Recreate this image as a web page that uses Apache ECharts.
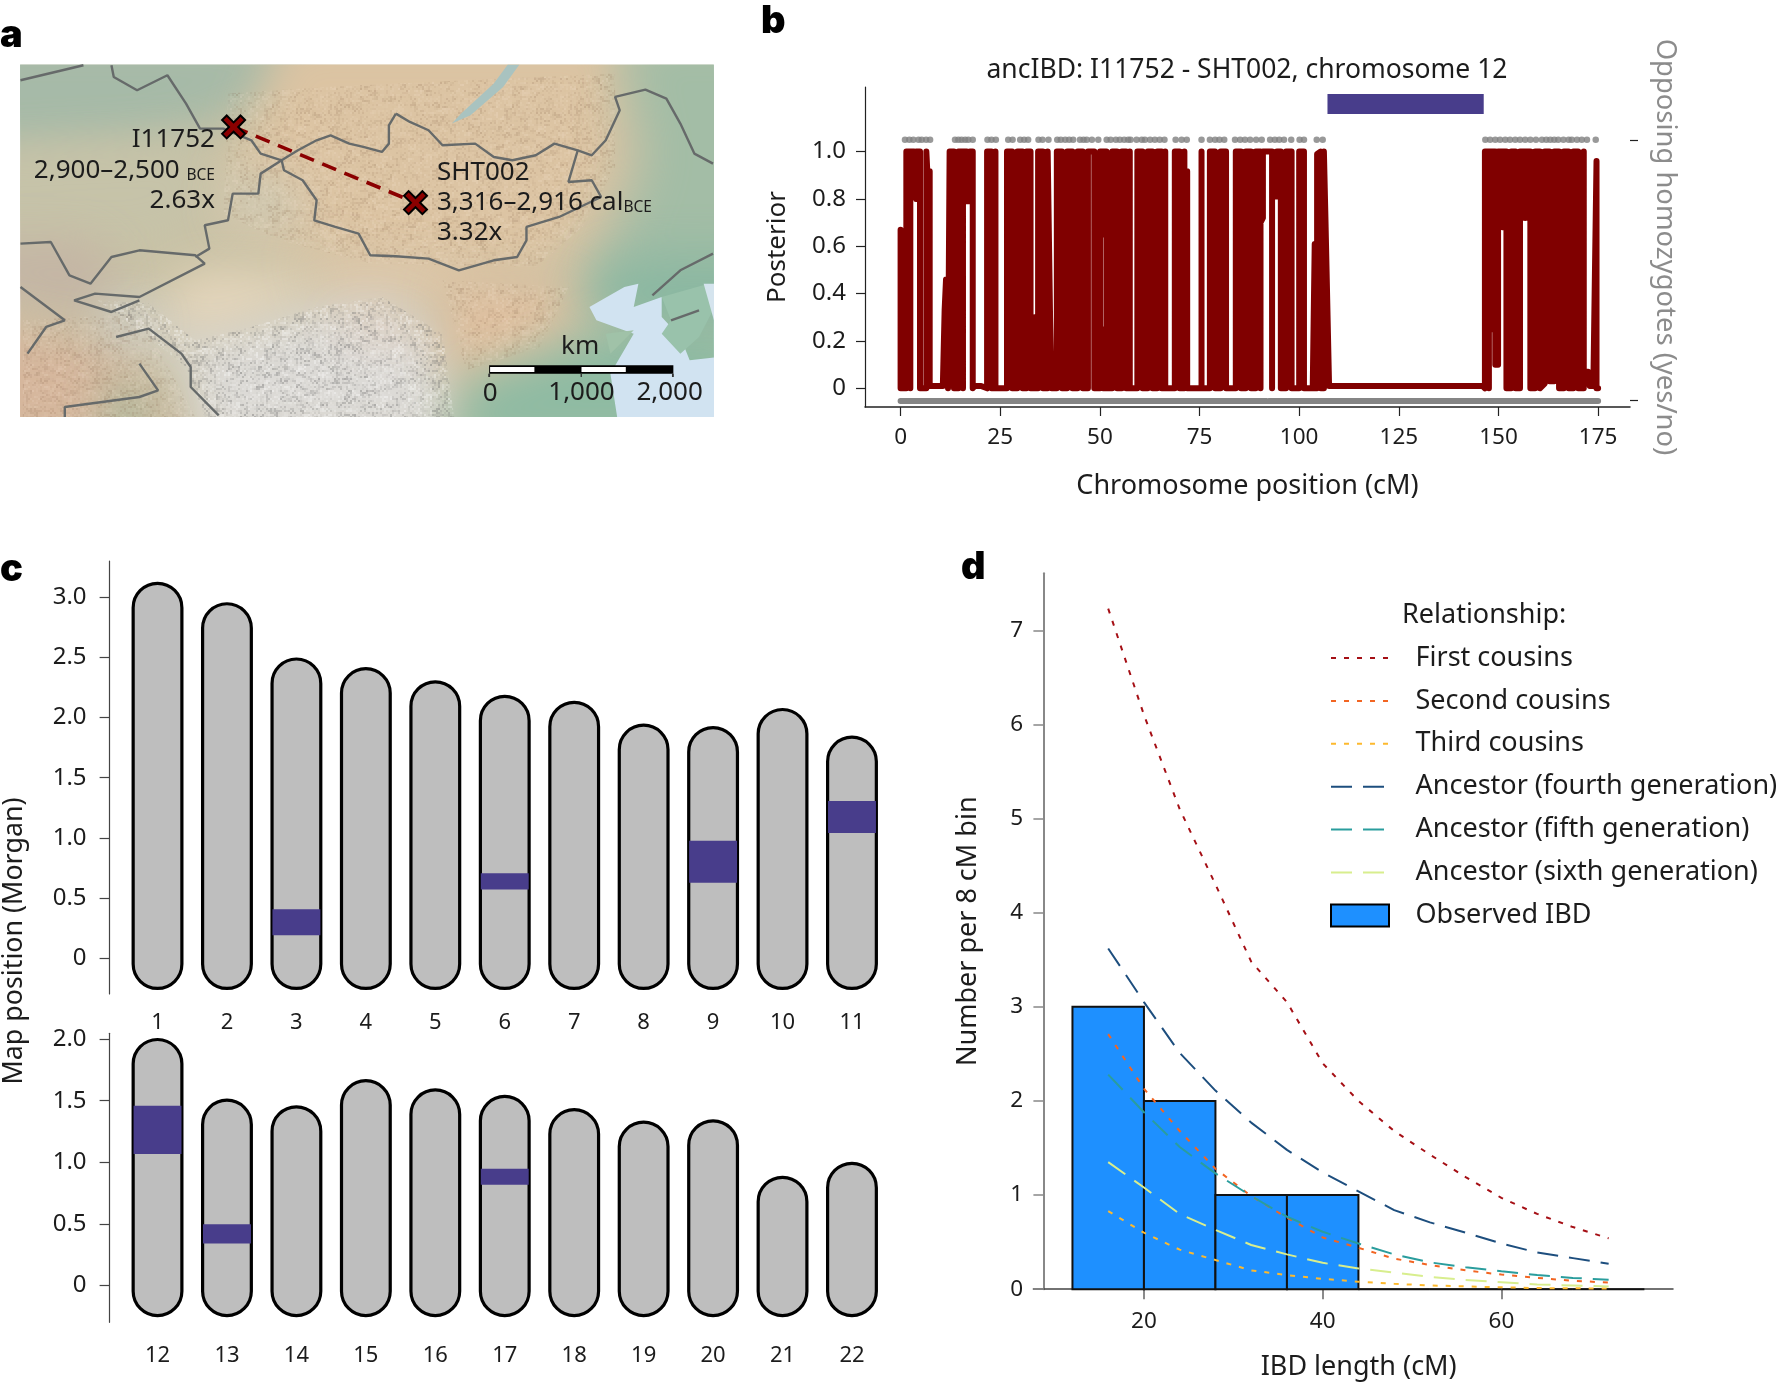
<!DOCTYPE html>
<html><head><meta charset="utf-8">
<style>html,body{margin:0;padding:0;background:#fff}#c{width:1777px;height:1382px}</style>
<script src="https://cdn.jsdelivr.net/npm/echarts@6/dist/echarts.min.js"></script>
</head><body><div id="c"></div>
<script>
var FONT='"Noto Sans"';
/* ---------- panel a (map units = arbitrary map-sheet units) ---------- */
var terrainShapes=[
 ['#a6baa8',[[-100,100],[620,100],[640,300],[520,330],[420,390],[300,430],[-100,470]]],
 ['#c6c3a9',[[-100,450],[420,420],[480,560],[430,680],[300,740],[-100,720]]],
 ['#dcc4a3',[[610,100],[1330,100],[1320,330],[1330,500],[1260,700],[1150,830],[800,800],[600,720],[480,660],[520,420]]],
 ['#a3bda6',[[1330,100],[1650,100],[1650,850],[1380,860],[1280,870],[1340,650],[1390,480]]],
 ['#c4b5a5',[[-100,720],[200,720],[260,850],[180,950],[-100,850]]],
 ['#cdc9b3',[[480,520],[620,530],[660,680],[480,680]]],
 ['#e5d6bc',[[340,900],[430,810],[700,830],[660,900],[540,970],[440,1020],[370,970]]],
 ['#e2c9ab',[[600,760],[1000,800],[1000,900],[760,890],[640,920],[720,830]]],
 ['#d6b79d',[[-100,940],[230,1030],[300,1090],[400,1350],[-100,1350]]],
 ['#dcdad6',[[300,920],[420,1020],[540,980],[680,920],[820,890],[950,1000],[980,1350],[430,1350],[400,1100],[320,1010]]],
 ['#e2c3ac',[[680,950],[850,960],[940,1010],[800,1000]]],
 ['#cfcfcc',[[220,910],[320,910],[330,1010],[230,1040]]],
 ['#a9bca0',[[230,1130],[330,1190],[300,1350],[230,1350]]],
 ['#dfc0a0',[[950,830],[1230,860],[1250,900],[1160,1050],[1030,1130],[970,1120]]],
 ['#8fbba3',[[960,1350],[1000,1150],[1180,1060],[1340,960],[1600,960],[1600,1350]]],
 ['#8ab8a2',[[1240,880],[1300,780],[1430,760],[1650,760],[1650,1000],[1430,1000],[1300,950]]]
];
var waterShapes=[
 ['#d1e3f1',[[1340,860],[1370,850],[1360,920],[1420,890],[1420,950],[1460,1010],[1480,1080],[1600,1060],[1600,1300],[1330,1300],[1310,1120],[1360,1000],[1280,960],[1265,920]]],
 ['#99c2ab',[[1420,890],[1520,850],[1530,930],[1500,1010],[1460,1060],[1420,1000],[1440,960]]],
 ['#a0c2a8',[[1300,1000],[1360,990],[1310,1060]]],
 ['#d5e4ee',[[1510,850],[1540,850],[1540,1000]]],
 ['#a9c3c0',[[1090,193],[1060,250],[990,340],[970,370],[1010,345],[1080,260],[1115,193]]]
];
var reliefBrown=[
 [[490,280],[700,260],[1000,240],[1320,220],[1320,500],[1250,680],[1150,800],[800,790],[600,720],[480,640]],
 [[50,960],[300,940],[420,1250],[50,1250]],
 [[950,840],[1220,860],[1160,1040],[1000,1110]]
];
var reliefGrey=[
 [[210,900],[320,910],[420,1020],[540,980],[680,920],[820,890],[950,1000],[975,1250],[440,1250],[400,1100],[320,1010]]
];
var mapBorders=[
 [[850,340],[835,375],[835,430],[820,455],[780,440],[750,430],[710,405],[680,420],[640,450],[605,480],[610,510],[650,540],[680,600],[675,660],[720,680],[770,700],[795,765],[850,768],[920,775],[985,810],[1060,780],[1110,770],[1130,720],[1130,680],[1200,650],[1290,590],[1270,540],[1220,545],[1240,450],[1190,430],[1150,465],[1100,480],[1060,470],[1020,430],[950,435],[920,390],[880,365],[850,340]],
 [[1240,450],[1270,465],[1300,420],[1330,330],[1320,290],[1385,268],[1430,295],[1460,370],[1490,460],[1530,490]],
 [[45,240],[180,195]],
 [[240,195],[245,230],[295,270],[360,225],[400,310],[430,385],[480,385],[540,420],[560,460],[605,480]],
 [[605,480],[560,520],[555,580],[500,580],[490,660],[440,675],[450,745],[420,770]],
 [[45,730],[110,725],[150,825],[195,850],[240,770],[300,750],[420,765],[440,790],[300,890],[205,880],[160,900],[240,935],[300,900]],
 [[45,860],[140,960],[100,980],[60,1060]],
 [[250,1010],[320,985],[390,1060],[410,1100],[410,1160],[470,1245]],
 [[300,1090],[340,1170],[300,1190],[140,1220],[140,1250]],
 [[1530,760],[1460,810],[1400,885]],
 [[1440,960],[1500,930]]
];
var siteCoords=[[502,380],[892,607]];
var scaleBoxes=[[1050,1445,1095,1120,'#000'],[1052,1147,1100,1115,'#fff'],[1248,1343,1100,1115,'#fff'],[1048,1052,1120,1130,'#333'],[1246,1249,1120,1130,'#333'],[1442,1446,1120,1130,'#333']];
var mapTexts=[
 [462,418,'I11752','right'],[462,510,'2,900–2,500 {s|BCE}','right'],[462,600,'2.63x','right'],
 [938,518,'SHT002','left'],[938,608,'3,316–2,916 cal{s|BCE}','left'],[938,698,'3.32x','left'],
 [1245,1040,'km','center'],[1052,1180,'0','center'],[1248,1178,'1,000','center'],[1437,1178,'2,000','center']
];
/* ---------- panel b ---------- */
var posteriorTrace=[[0,.67],[0,0],[1.44,0],[1.44,1],[2.44,1],[2.44,0],[2.44,1],[3.4,1],[3.4,.85],[3.9,.8],[3.9,1],[4.87,1],[4.87,0],[6.46,0],[6.46,1],[6.7,1],[6.7,.917],[7.3,.917],[7.3,.01],[10.6,.01],[11.05,.33],[11.4,.46],[11.9,.46],[11.9,0],
[12.3,0],[12.3,1],[13.4,1],[13.4,0],[14.5,0],[14.5,1],[15.65,1],[15.65,0],[15.65,1],[16.6,1],[16.6,.79],[17.4,.79],[17.4,1],[18.1,1],[18.1,0],[18.6,.01],[20.2,.01],[21.7,0],[21.7,1],[22.8,1],[22.8,0],[23.8,0],[23.8,1],[23.8,0],[25.4,0],
[26.7,0],[26.7,1],[28,1],[28,0],[29.3,0],[29.3,1],[30.6,1],[30.6,0],[31.6,0],[31.6,1],[32.6,1],[32.6,0],[33.6,0],[33.6,.3],[33.6,0],[34.5,0],[34.5,1],[35.7,1],[35.7,0],[36.9,0],[36.9,1],[37.5,.3],[37.9,0],
[39.2,0],[39.2,1],[40.5,1],[40.5,0],[41.8,0],[41.8,1],[43.1,1],[43.1,0],[44.4,0],[44.4,1],[45.7,1],[45.7,0],[47,0],[47,1],[48.6,1],[48.6,0],[50.05,0],[50.05,1],[50.8,1],[50.8,.65],[50.8,1],[51.65,1],[51.65,0],[50.8,0],[50.8,.25],[50.8,0],[51.65,0],
[53.1,0],[53.1,1],[54.3,1],[54.3,0],[55.5,0],[55.5,1],[56.6,1],[56.6,0],[57.5,0],[57.5,1],[57.5,0],[59.4,0],
[59.4,1],[60.7,1],[60.7,0],[62,0],[62,1],[63.2,1],[63.2,0],[64.4,0],[64.4,1],[65.5,1],[65.5,0],[66.4,0],[66.4,1],[66.4,0],[68.8,0],
[68.8,1],[70,1],[70,0],[71.2,0],[71.2,1],[71.2,.917],[71.9,.917],[71.9,0],[75.5,0],[75.5,1],[75.5,0],[77.6,0],[77.6,1],[78.9,1],[78.9,0],[80.3,0],[80.3,1],[81.65,1],[81.65,0],[84.1,0],
[84.1,1],[85.4,1],[85.4,0],[86.6,0],[86.6,1],[87.9,1],[87.9,0],[89.1,0],[89.1,1],[90.3,1],[90.3,0],[90.3,.7],[90.9,.72],[90.9,1],[92,1],[93.2,1],[93.2,0],[93.2,.81],[94.4,.81],[94.4,1],[95.4,1],[95.4,0],[96.7,0],[96.7,1],[98.1,1],[98.1,0],[100,0],[100,1],[101.2,1],[101.2,0],[103.4,0],
[103.9,.61],[103.9,0],[104.5,0],[104.5,.99],[105.4,1],[105.4,0],[106.2,0],[106.2,1],[106.6,.71],[107.5,.01],[146,.01],
[146.6,0],[146.6,1],[147.6,1],[147.6,0],[147.6,1],[148.4,1],[148.4,.25],[148.4,1],[149.2,1],[149.2,.1],[149.9,.1],[149.9,1],[151,1],[151,.68],[151,1],[152,1],[152,0],[153.2,0],[153.2,1],[154.3,1],[154.3,0],[155.4,0],[155.4,1],[156.7,1],[156.7,.72],[156.7,1],[158,1],[158,0],[159.2,0],[159.2,1],[160.4,1],[160.4,0],[161.6,.02],[161.6,1],[162.8,1],[162.8,.03],[164,.03],[164,1],[165.2,1],[165.2,0],[166.4,0],[166.4,1],[167.6,1],[167.6,0],[168.8,0],[168.8,1],[170,1],[170,0],[171.4,0],[171.4,1],[171.4,.07],[172.5,.07],[172.9,.01],[173.8,.01],[174.6,.96],[174.6,0],[175,0]];
var opposingYes=[1.1,2.2,3.2,4.5,5.3,6.4,7.4,13.65,14.5,15.3,16.2,17,18.1,21.8,22.8,23.9,27,28.1,30,31,32,34.6,35.6,37.1,39.3,40.2,41.3,42.3,43.3,45,45.9,46.7,48,49.6,51.7,52.7,54,55,56.1,57.1,57.7,59.2,60.5,61.3,62.6,63.8,65,66.2,69,70.5,71.8,75.5,77.6,78.9,80,81.2,83.9,85.2,86.4,87.7,89.2,90.6,92.7,93.9,95,96.2,98,100.1,101.2,104.4,105.9,146.7,147.9,149.2,150.4,151.7,152.9,154.2,155.4,156.7,158,159.4,160.9,162,163,164,165,166.3,167.6,168.4,169.7,170.9,172.2,174.4];
var opposingNoRuns=[[0,91.8],[92.4,175]];
var ibdBlock=[107.1,146.3,1.159,1.243];
var bXTicks=[0,25,50,75,100,125,150,175];
var bYTicks=[0,.2,.4,.6,.8,1];
/* ---------- panel c ---------- */
var chromUpper=['1','2','3','4','5','6','7','8','9','10','11'];
var chromLower=['12','13','14','15','16','17','18','19','20','21','22'];
var topUpper=[3.13,2.96,2.50,2.42,2.31,2.19,2.14,1.95,1.93,2.08,1.85];
var topLower=[2.01,1.517,1.463,1.675,1.60,1.547,1.44,1.338,1.349,.89,1.004];
var pillFloorUpper=-.266, pillFloorLower=-.258;
var segUpper=[[2,.19,.405],[5,.57,.705],[8,.626,.975],[10,1.04,1.306]];
var segLower=[[0,1.067,1.46],[1,.34,.497],[5,.817,.947]];
var cTicksUpper=[0,.5,1,1.5,2,2.5,3];
var cTicksLower=[0,.5,1,1.5,2];
/* ---------- panel d ---------- */
var binLow=[12,20,28,36,44,52,60,68];
var binHigh=[20,28,36,44,52,60,68,76];
var binCount=[3,2,1,1,0,0,0,0];
var curveX=[16,20,24,28,32,36,40,44,48,52,56,60,64,68,72];
var firstCousins=[7.23,6.10,5.1,4.3,3.48,3.05,2.40,2.0,1.68,1.43,1.19,.97,.80,.66,.54];
var secondCousins=[2.71,2.13,1.68,1.28,.99,.76,.55,.44,.325,.257,.2,.155,.12,.09,.07];
var thirdCousins=[.83,.6,.42,.31,.2,.15,.11,.08,.057,.04,.03,.02,.012,.01,.006];
var ancestor4=[3.62,3.05,2.51,2.11,1.77,1.48,1.24,1.04,.84,.71,.6,.485,.39,.33,.27];
var ancestor5=[2.28,1.88,1.51,1.23,.99,.77,.61,.485,.37,.285,.234,.19,.15,.12,.1];
var ancestor6=[1.35,1.08,.8,.63,.47,.37,.28,.22,.177,.13,.097,.074,.05,.04,.03];
var dXTicks=[20,40,60];
var dYTicks=[0,1,2,3,4,5,6,7];

function zip(a,b){return a.map(function(v,i){return [v,b[i]];});}
var INK='#1c1c1c';
var chart=echarts.init(document.getElementById('c'),null,{renderer:'canvas'});

/* static hillshade-like tile used only as the map's background texture */
function reliefTile(dark,light,a){
 var c=document.createElement('canvas');c.width=c.height=240;var g=c.getContext('2d');
 for(var y=0;y<240;y+=2){for(var x=0;x<240;x+=2){
  var h=Math.sin(x*12.9898+y*78.233)*43758.5453;h-=Math.floor(h);
  var k=Math.sin(Math.floor(x/8)*4.1+Math.floor(y/6)*7.3)*9137.7;k-=Math.floor(k);
  var v=h*.6+k*.4;
  if(v<.42){g.fillStyle='rgba('+dark+','+(a*(.42-v)/.42)+')';g.fillRect(x,y,2,2);}
  else if(v>.58){g.fillStyle='rgba('+light+','+(a*(v-.58)/.42)+')';g.fillRect(x,y,2,2);}
 }}
 return c;
}
function softItem(shapes,blur){
 return function(p,api){
  var s=shapes[p.dataIndex];
  return {type:'polygon',shape:{points:s[1].map(function(q){var c=api.coord(q);return [c[0]-4000,c[1]];})},
   style:{fill:s[0],shadowBlur:blur,shadowColor:s[0],shadowOffsetX:4000}};
 };
}
function polyItem(shapes){
 return function(p,api){
  var s=shapes[p.dataIndex];
  return {type:'polygon',shape:{points:s[1].map(function(q){return api.coord(q);})},style:{fill:s[0]}};
 };
}
function texItem(shapes,tile){
 return function(p,api){
  return {type:'polygon',shape:{points:shapes[p.dataIndex].map(function(q){return api.coord(q);})},
   style:{fill:{image:tile,repeat:'repeat'}}};
 };
}
function pillItem(floor){
 return function(p,api){
  var a=api.coord([api.value(0),api.value(1)]),b=api.coord([api.value(0),floor]);
  var w=api.size([1,0])[0]*.745-3;
  return {type:'rect',shape:{x:a[0]-w/2,y:a[1]+1.5,width:w,height:b[1]-a[1]-3,r:w/2},
   style:{fill:'#bebebe',stroke:'#000',lineWidth:3.2}};
 };
}
function segItem(p,api){
 var a=api.coord([api.value(0),api.value(2)]),b=api.coord([api.value(0),api.value(1)]);
 var w=api.size([1,0])[0]*.69;
 return {type:'rect',shape:{x:a[0]-w/2,y:a[1],width:w,height:b[1]-a[1]},style:{fill:'#483d8b'}};
}
function dLine(name,vals,color,dash){
 return {name:name,type:'line',xAxisIndex:4,yAxisIndex:5,data:zip(curveX,vals),symbol:'none',z:5,
  lineStyle:{color:color,width:2,type:dash},itemStyle:{color:color}};
}
function hiddenIcon(n){return {name:n,itemStyle:{opacity:0}};}
var DOT=[5,8],LONG=[21,11];
var option={
 animation:false,backgroundColor:'#fff',
 textStyle:{fontFamily:FONT},
 grid:[
  {left:20.5,top:64.6,width:692.5,height:352.4,outerBoundsMode:'none'},
  {left:865,top:87,width:765,height:320,outerBoundsMode:'none'},
  {left:122.8,top:561,width:763.9,height:433,outerBoundsMode:'none'},
  {left:122.8,top:1033.3,width:763.9,height:289,outerBoundsMode:'none'},
  {left:1033.4,top:573.3,width:639.6,height:715.9,outerBoundsMode:'none'}
 ],
 xAxis:[
  {gridIndex:0,type:'value',min:45,max:1530,show:false},
  {gridIndex:1,type:'value',min:-8.93,max:183,splitLine:{show:false},
   axisLine:{onZero:false,lineStyle:{color:'#222',width:1.5}},axisTick:{customValues:bXTicks,length:9,lineStyle:{color:'#222',width:1.2}},
   axisLabel:{customValues:bXTicks,fontSize:22.5,color:INK,margin:19,fontFamily:FONT},
   name:'Chromosome position (cM)',nameLocation:'middle',nameGap:66,nameTextStyle:{fontSize:27,color:INK,fontFamily:FONT}},
  {gridIndex:2,type:'category',data:chromUpper,axisLine:{show:false},
   axisTick:{alignWithLabel:true,length:11,lineStyle:{color:'#555',width:1.2}},
   axisLabel:{fontSize:22,color:INK,margin:18,interval:0,fontFamily:FONT}},
  {gridIndex:3,type:'category',data:chromLower,axisLine:{show:false},
   axisTick:{alignWithLabel:true,length:11,lineStyle:{color:'#555',width:1.2}},
   axisLabel:{fontSize:22,color:INK,margin:22,interval:0,fontFamily:FONT}},
  {gridIndex:4,type:'value',min:7.63,max:79.2,splitLine:{show:false},
   axisLine:{onZero:false,lineStyle:{color:'#444',width:1.5}},axisTick:{customValues:dXTicks,length:10,lineStyle:{color:'#666',width:1.5}},
   axisLabel:{customValues:dXTicks,fontSize:22.5,color:INK,margin:21,fontFamily:FONT},
   name:'IBD length (cM)',nameLocation:'middle',nameGap:65,nameTextStyle:{fontSize:27,color:INK,fontFamily:FONT,padding:[0,0,0,11]}}
 ],
 yAxis:[
  {gridIndex:0,type:'value',inverse:true,min:193,max:1250,show:false},
  {gridIndex:1,type:'value',min:-.079,max:1.273,splitLine:{show:false},
   axisLine:{show:true,onZero:false,lineStyle:{color:'#222',width:1.2}},axisTick:{show:true,customValues:bYTicks,length:9,lineStyle:{color:'#222',width:1.2}},
   axisLabel:{customValues:bYTicks,fontSize:24,color:INK,margin:19,fontFamily:FONT,formatter:function(v){return v===0?'0':v.toFixed(1);}},
   name:'Posterior',nameLocation:'middle',nameGap:74,nameTextStyle:{fontSize:26,color:INK,fontFamily:FONT}},
  {gridIndex:1,type:'value',position:'right',min:-.079,max:1.273,splitLine:{show:false},
   axisLine:{show:false,onZero:false},axisTick:{show:true,customValues:[-.05,1.05],length:8,lineStyle:{color:'#222',width:1.2}},
   axisLabel:{show:false},
   name:'Opposing homozygotes (yes/no)',nameLocation:'middle',nameGap:21,nameRotate:-90,nameTextStyle:{fontSize:27.4,color:'#8c8c8c',fontFamily:FONT}},
  {gridIndex:2,type:'value',offset:13.2,min:-.2995,max:3.303,splitLine:{show:false},
   axisLine:{show:true,onZero:false,lineStyle:{color:'#444',width:1.2}},axisTick:{show:true,customValues:cTicksUpper,length:10,lineStyle:{color:'#444',width:1.2}},
   axisLabel:{customValues:cTicksUpper,fontSize:24,color:INK,margin:23,fontFamily:FONT,formatter:function(v){return v===0?'0':v.toFixed(1);}}},
  {gridIndex:3,type:'value',offset:13.2,min:-.3,max:2.048,splitLine:{show:false},
   axisLine:{show:true,onZero:false,lineStyle:{color:'#444',width:1.2}},axisTick:{show:true,customValues:cTicksLower,length:10,lineStyle:{color:'#444',width:1.2}},
   axisLabel:{customValues:cTicksLower,fontSize:24,color:INK,margin:23,fontFamily:FONT,formatter:function(v){return v===0?'0':v.toFixed(1);}}},
  {gridIndex:4,type:'value',offset:-10.6,min:0,max:7.605,splitLine:{show:false},
   axisLine:{show:true,onZero:false,lineStyle:{color:'#888',width:2}},axisTick:{show:true,customValues:dYTicks,length:10.6,lineStyle:{color:'#888',width:1.5}},
   axisLabel:{customValues:dYTicks,fontSize:22.5,color:INK,margin:21,fontFamily:FONT},
   name:'Number per 8 cM bin',nameLocation:'middle',nameGap:62,nameTextStyle:{fontSize:27,color:INK,fontFamily:FONT}}
 ],
 legend:{left:1330,top:644.5,padding:0,orient:'vertical',selectedMode:false,itemWidth:58,itemHeight:22,itemGap:15.9,
  textStyle:{fontSize:27,color:INK,fontFamily:FONT,padding:[0,0,0,21.5]},
  data:['First cousins','Second cousins','Third cousins','Ancestor (fourth generation)','Ancestor (fifth generation)','Ancestor (sixth generation)'].map(hiddenIcon).concat([
   {name:'Observed IBD',icon:'rect',itemStyle:{color:'#1e90ff',borderColor:'#000',borderWidth:2}}])},
 graphic:[
  {type:'text',x:0,y:17,style:{text:'a',font:'900 38px Inter',fill:'#000'}},
  {type:'text',x:761,y:3,style:{text:'b',font:'900 38px Inter',fill:'#000'}},
  {type:'text',x:0,y:551,style:{text:'c',font:'900 38px Inter',fill:'#000'}},
  {type:'text',x:961,y:549,style:{text:'d',font:'900 38px Inter',fill:'#000'}},
  {type:'text',x:1247,y:70,style:{text:'ancIBD: I11752 - SHT002, chromosome 12',font:'26.5px '+FONT,fill:INK,align:'center',verticalAlign:'middle'}},
  {type:'text',x:14,y:941,rotation:Math.PI/2,style:{text:'Map position (Morgan)',font:'26.8px '+FONT,fill:INK,align:'center',verticalAlign:'middle'}},
  {type:'text',x:1402,y:615,style:{text:'Relationship:',font:'27px '+FONT,fill:INK,verticalAlign:'middle'}}
 ],
 series:[
  {type:'custom',xAxisIndex:0,yAxisIndex:0,clip:true,silent:true,data:[[45,1530,193,1250]],z:1,
   renderItem:function(p,api){var a=api.coord([45,193]),b=api.coord([1530,1250]);
    return {type:'rect',shape:{x:a[0],y:a[1],width:b[0]-a[0],height:b[1]-a[1]},style:{fill:'#c9c2a6'}};}},
  {type:'custom',xAxisIndex:0,yAxisIndex:0,clip:true,silent:true,z:2,data:terrainShapes.map(function(s,i){return [i];}),renderItem:softItem(terrainShapes,45),encode:{x:-1,y:-1}},
  {type:'custom',xAxisIndex:0,yAxisIndex:0,clip:true,silent:true,z:3,data:reliefBrown.map(function(s,i){return [i];}),renderItem:texItem(reliefBrown,reliefTile('120,85,60','255,240,225',.2)),encode:{x:-1,y:-1}},
  {type:'custom',xAxisIndex:0,yAxisIndex:0,clip:true,silent:true,z:3,data:reliefGrey.map(function(s,i){return [i];}),renderItem:texItem(reliefGrey,reliefTile('110,110,110','255,255,255',.45)),encode:{x:-1,y:-1}},
  {type:'custom',xAxisIndex:0,yAxisIndex:0,clip:true,silent:true,z:3,data:waterShapes.map(function(s,i){return [i];}),renderItem:polyItem(waterShapes),encode:{x:-1,y:-1}}
 ].concat(mapBorders.map(function(b){
  return {type:'line',xAxisIndex:0,yAxisIndex:0,data:b,symbol:'none',z:4,silent:true,lineStyle:{color:'#666a6a',width:2.4}};
 })).concat([
  {type:'line',xAxisIndex:0,yAxisIndex:0,data:siteCoords,symbol:'none',z:5,lineStyle:{color:'#8b0000',width:3.6,type:[15,9]}},
  {type:'scatter',xAxisIndex:0,yAxisIndex:0,data:siteCoords,z:6,symbol:'path://M2 0L5 3L8 0L10 2L7 5L10 8L8 10L5 7L2 10L0 8L3 5L0 2Z',symbolSize:23,
   itemStyle:{color:'#8b0000',borderColor:'#000',borderWidth:2,opacity:1}},
  {type:'custom',xAxisIndex:0,yAxisIndex:0,z:6,data:scaleBoxes,encode:{x:[0,1],y:[2,3]},
   renderItem:function(p,api){var s=scaleBoxes[p.dataIndex];var a=api.coord([s[0],s[2]]),b=api.coord([s[1],s[3]]);
    return {type:'rect',shape:{x:a[0],y:a[1],width:b[0]-a[0],height:b[1]-a[1]},style:{fill:s[4]}};}},
  {type:'custom',xAxisIndex:0,yAxisIndex:0,z:7,data:mapTexts.map(function(t){return [t[0],t[1]];}),encode:{x:0,y:1},
   renderItem:function(p,api){var t=mapTexts[p.dataIndex];var a=api.coord([t[0],t[1]]);
    return {type:'text',x:a[0],y:a[1],style:{text:t[2],fill:INK,font:'26px '+FONT,align:t[3],verticalAlign:'middle',
     rich:{s:{fontSize:15.5,fontFamily:FONT,fill:INK,verticalAlign:'bottom'}}}};}},
  /* b */
  {type:'line',xAxisIndex:1,yAxisIndex:1,data:posteriorTrace,symbol:'none',z:3,lineStyle:{color:'#800000',width:6,join:'round',cap:'round'}},
  {type:'scatter',xAxisIndex:1,yAxisIndex:1,data:opposingYes.map(function(x){return [x,1.05];}),symbolSize:6.5,z:4,itemStyle:{color:'#808080',opacity:.8}},
  {type:'line',xAxisIndex:1,yAxisIndex:1,data:[[opposingNoRuns[0][0],-.054],[opposingNoRuns[0][1],-.054],[null,null],[opposingNoRuns[1][0],-.054],[opposingNoRuns[1][1],-.054]],symbol:'none',z:4,connectNulls:false,lineStyle:{color:'#858585',width:6,cap:'round'}},
  {type:'custom',xAxisIndex:1,yAxisIndex:1,z:4,data:[ibdBlock],encode:{x:[0,1],y:[2,3]},
   renderItem:function(p,api){var a=api.coord([api.value(0),api.value(3)]),b=api.coord([api.value(1),api.value(2)]);
    return {type:'rect',shape:{x:a[0],y:a[1],width:b[0]-a[0],height:b[1]-a[1]},style:{fill:'#483d8b'}};}},
  /* c */
  {type:'custom',xAxisIndex:2,yAxisIndex:3,z:3,data:topUpper.map(function(v,i){return [i,v];}),encode:{x:0,y:1},renderItem:pillItem(pillFloorUpper),clip:false},
  {type:'custom',xAxisIndex:2,yAxisIndex:3,z:4,data:segUpper,encode:{x:0,y:[1,2]},renderItem:segItem,clip:false},
  {type:'custom',xAxisIndex:3,yAxisIndex:4,z:3,data:topLower.map(function(v,i){return [i,v];}),encode:{x:0,y:1},renderItem:pillItem(pillFloorLower),clip:false},
  {type:'custom',xAxisIndex:3,yAxisIndex:4,z:4,data:segLower,encode:{x:0,y:[1,2]},renderItem:segItem,clip:false},
  /* d */
  {name:'Observed IBD',type:'custom',xAxisIndex:4,yAxisIndex:5,z:3,clip:false,itemStyle:{color:'#1e90ff',borderColor:'#000',borderWidth:2},
   data:binLow.map(function(l,i){return [l,binHigh[i],binCount[i]];}),encode:{x:[0,1],y:2},
   renderItem:function(p,api){var a=api.coord([api.value(0),api.value(2)]),b=api.coord([api.value(1),0]);
    return {type:'rect',shape:{x:a[0],y:a[1],width:b[0]-a[0],height:b[1]-a[1]},style:{fill:'#1e90ff',stroke:'#111',lineWidth:2}};}},
  dLine('First cousins',firstCousins,'#a50f15',DOT),
  dLine('Second cousins',secondCousins,'#f26522',DOT),
  dLine('Third cousins',thirdCousins,'#fdb92e',DOT),
  dLine('Ancestor (fourth generation)',ancestor4,'#1d4e7e',LONG),
  dLine('Ancestor (fifth generation)',ancestor5,'#2a9d9d',LONG),
  dLine('Ancestor (sixth generation)',ancestor6,'#d8ee8e',LONG)
 ])
};
chart.setOption(option);
</script></body></html>
